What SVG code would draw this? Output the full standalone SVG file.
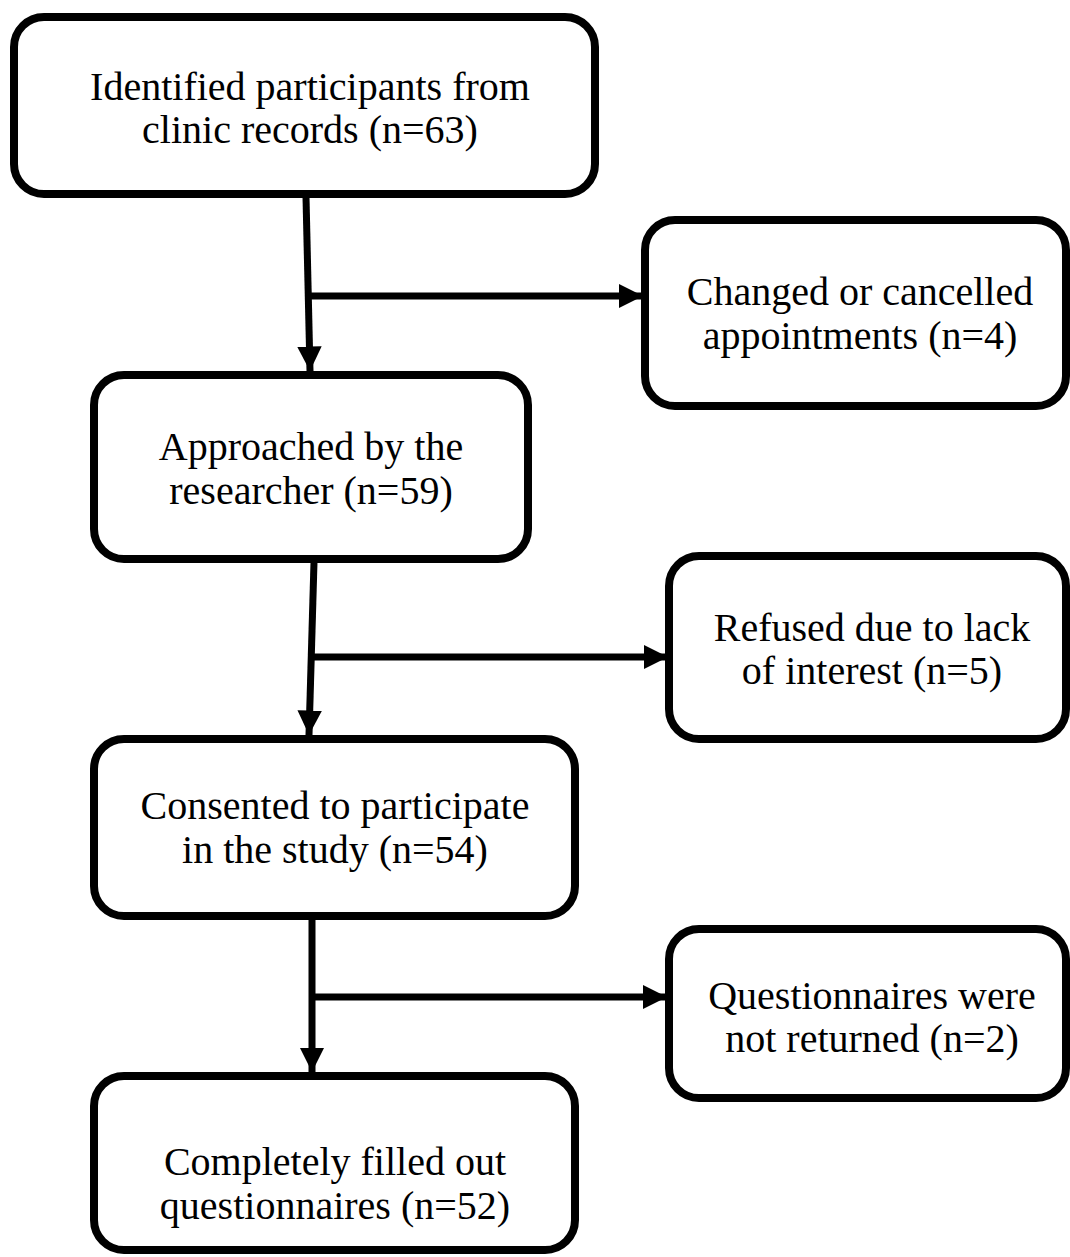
<svg xmlns="http://www.w3.org/2000/svg" width="1070" height="1257" viewBox="0 0 1070 1257">
  <style>
    .box { fill: #ffffff; stroke: #000000; stroke-width: 8; }
    .lbl { font-family: "Liberation Serif", "DejaVu Serif", serif; font-size: 40px; fill: #000000; text-anchor: middle; }
    .wire { stroke: #000000; stroke-width: 7; fill: none; }
  </style>
  <defs>
    <marker id="arrow" viewBox="0 0 10 10" refX="10" refY="5" markerWidth="3.5" markerHeight="3.5" markerUnits="strokeWidth" orient="auto">
      <path d="M0,0 L10,5 L0,10 Z" fill="#000000"/>
    </marker>
  </defs>

  <g id="connectors">
    <line class="wire" x1="306" y1="197" x2="310" y2="371" marker-end="url(#arrow)"/>
    <line class="wire" x1="308" y1="296" x2="643" y2="296" marker-end="url(#arrow)"/>
    <line class="wire" x1="314" y1="562" x2="309" y2="735" marker-end="url(#arrow)"/>
    <line class="wire" x1="311" y1="657" x2="668" y2="657" marker-end="url(#arrow)"/>
    <line class="wire" x1="312" y1="914" x2="312" y2="1072" marker-end="url(#arrow)"/>
    <line class="wire" x1="312" y1="997" x2="667" y2="997" marker-end="url(#arrow)"/>
  </g>

  <g id="identified">
    <rect class="box" x="14" y="17" width="581" height="177" rx="30"/>
    <text class="lbl" x="310" y="100">Identified participants from</text>
    <text class="lbl" x="310" y="143">clinic records (n=63)</text>
  </g>

  <g id="changed">
    <rect class="box" x="645" y="220" width="421" height="186" rx="30"/>
    <text class="lbl" x="860" y="305">Changed or cancelled</text>
    <text class="lbl" x="860" y="349">appointments (n=4)</text>
  </g>

  <g id="approached">
    <rect class="box" x="94" y="375" width="434" height="184" rx="30"/>
    <text class="lbl" x="311" y="460">Approached by the</text>
    <text class="lbl" x="311" y="504">researcher (n=59)</text>
  </g>

  <g id="refused">
    <rect class="box" x="669" y="556" width="397" height="183" rx="30"/>
    <text class="lbl" x="872" y="641">Refused due to lack</text>
    <text class="lbl" x="872" y="684">of interest (n=5)</text>
  </g>

  <g id="consented">
    <rect class="box" x="94" y="739" width="481" height="177" rx="30"/>
    <text class="lbl" x="335" y="819">Consented to participate</text>
    <text class="lbl" x="335" y="863">in the study (n=54)</text>
  </g>

  <g id="not-returned">
    <rect class="box" x="669" y="929" width="397" height="169" rx="30"/>
    <text class="lbl" x="872" y="1009">Questionnaires were</text>
    <text class="lbl" x="872" y="1052">not returned (n=2)</text>
  </g>

  <g id="completed">
    <rect class="box" x="94" y="1076" width="481" height="174" rx="30"/>
    <text class="lbl" x="335" y="1175">Completely filled out</text>
    <text class="lbl" x="335" y="1219">questionnaires (n=52)</text>
  </g>
</svg>
